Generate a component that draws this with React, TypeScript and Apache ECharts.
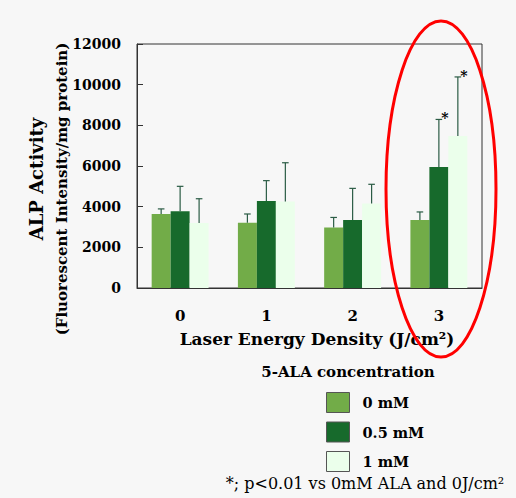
import React, { useEffect, useRef } from "react";
import * as echarts from "echarts";

const categories = ["0", "1", "2", "3"];
const seriesNames = ["0 mM", "0.5 mM", "1 mM"];
const mean0mM = [3640, 3210, 2980, 3340];
const upper0mM = [3890, 3640, 3470, 3740];
const mean05mM = [3770, 4280, 3340, 5950];
const upper05mM = [5000, 5280, 4900, 8290];
const mean1mM = [3200, 4260, 4150, 7480];
const upper1mM = [4390, 6160, 5100, 10380];
const sig0mM = [false, false, false, false];
const sig05mM = [false, false, false, true];
const sig1mM = [false, false, false, true];
const yTicks = [0, 2000, 4000, 6000, 8000, 10000, 12000];

const colors = ["#72ac48", "#176a2c", "#ebffeb"];
const SERIF = "'DejaVu Serif', 'Liberation Serif', serif";

const W = 516;
const H = 498;
const GRID = { left: 137, top: 44, right: 34, bottom: 210 };
const BAR_FRAC = 0.22;

export default function App() {
  const ref = useRef<HTMLDivElement>(null);
  useEffect(() => {
    document.body.style.margin = "0";
    document.body.style.background = "#f7f7f7";
    const chart = echarts.init(ref.current!, null, { renderer: "svg" });
    const means = [mean0mM, mean05mM, mean1mM];
    const uppers = [upper0mM, upper05mM, upper1mM];
    const sigs = [sig0mM, sig05mM, sig1mM];
    const catWidthPx = (W - GRID.left - GRID.right) / categories.length;
    const barWidthPx = catWidthPx * BAR_FRAC;

    const barSeries = means.map((m, i) => ({
      type: "bar",
      name: seriesNames[i],
      data: m,
      barWidth: `${BAR_FRAC * 100}%`,
      barGap: "0%",
      itemStyle: { color: colors[i] },
      z: 2,
    }));

    const errSeries = means.map((m, i) => ({
      type: "custom",
      name: seriesNames[i] + " err",
      data: m.map((v, k) => [k, v, uppers[i][k]]),
      z: 5,
      silent: true,
      renderItem: (params: any, api: any) => {
        const k = api.value(0);
        const catW = api.size([1, 0])[0];
        const bw = catW * BAR_FRAC;
        const off = (i - 1) * bw;
        const p0 = api.coord([k, api.value(1)]);
        const p1 = api.coord([k, api.value(2)]);
        const x = p0[0] + off;
        return {
          type: "group",
          children: [
            {
              type: "line",
              shape: { x1: x, y1: p0[1], x2: x, y2: p1[1] },
              style: { stroke: "#2b5c45", lineWidth: 1.2 },
            },
            {
              type: "line",
              shape: { x1: x - 3.3, y1: p1[1], x2: x + 3.3, y2: p1[1] },
              style: { stroke: "#2b5c45", lineWidth: 1.2 },
            },
          ],
        };
      },
    }));

    const starSeries = means.map((m, i) => ({
      type: "scatter",
      name: seriesNames[i] + " sig",
      data: uppers[i]
        .map((u, k) => (sigs[i][k] ? [k, u] : null))
        .filter((d) => d !== null),
      symbol: "circle",
      symbolSize: 1,
      silent: true,
      z: 6,
      itemStyle: { color: "rgba(0,0,0,0)" },
      label: {
        show: true,
        position: "inside",
        formatter: "*",
        offset: [(i - 1) * barWidthPx + 6, -1],
        color: "#000",
        opacity: 1,
        fontFamily: SERIF,
        fontWeight: "bold",
        fontSize: 14,
      },
    }));

    const centered = {
      fill: "#000",
      align: "center",
      verticalAlign: "middle",
      textAlign: "center",
      textVerticalAlign: "middle",
    };

    chart.setOption({
      animation: false,
      backgroundColor: "#f7f7f7",
      grid: {
        ...GRID,
        show: true,
        borderColor: "#333",
        borderWidth: 1,
        backgroundColor: "transparent",
      },
      legend: {
        orient: "vertical",
        left: 321,
        top: 387,
        itemWidth: 23,
        itemHeight: 20,
        itemGap: 8.5,
        icon: "rect",
        data: seriesNames,
        itemStyle: { borderColor: "#555", borderWidth: 1 },
        textStyle: {
          fontFamily: SERIF,
          fontWeight: "bold",
          fontSize: 14.5,
          color: "#000",
          padding: [0, 0, 6, 8],
        },
      },
      xAxis: {
        type: "category",
        data: categories,
        axisLine: { lineStyle: { color: "#333" } },
        axisTick: { inside: true, length: 6, lineStyle: { color: "#666" } },
        axisLabel: {
          margin: 20,
          fontFamily: SERIF,
          fontWeight: "bold",
          fontSize: 15,
          color: "#000",
        },
      },
      yAxis: {
        type: "value",
        min: yTicks[0],
        max: yTicks[yTicks.length - 1],
        interval: 2000,
        splitLine: { show: false },
        axisLine: { show: true, lineStyle: { color: "#333" } },
        axisTick: { show: true, inside: true, length: 6, lineStyle: { color: "#333" } },
        axisLabel: {
          margin: 16,
          fontFamily: SERIF,
          fontWeight: "bold",
          fontSize: 14,
          color: "#000",
          formatter: (v: number) => String(v),
        },
      },
      graphic: [
        {
          type: "text",
          x: 36,
          y: 179,
          rotation: Math.PI / 2,
          style: { text: "ALP Activity", font: `bold 18px ${SERIF}`, ...centered },
        },
        {
          type: "text",
          x: 62,
          y: 189,
          rotation: Math.PI / 2,
          style: {
            text: "(Fluorescent Intensity/mg protein)",
            font: `bold 15px ${SERIF}`,
            ...centered,
          },
        },
        {
          type: "text",
          x: 317,
          y: 339,
          style: { text: "Laser Energy Density (J/cm²)", font: `bold 17px ${SERIF}`, ...centered },
        },
        {
          type: "text",
          x: 348,
          y: 372,
          style: { text: "5-ALA concentration", font: `bold 15px ${SERIF}`, ...centered },
        },
        {
          type: "text",
          x: 365,
          y: 483,
          style: { text: "*; p<0.01 vs 0mM ALA and 0J/cm²", font: `16px ${SERIF}`, ...centered },
        },
        {
          type: "ellipse",
          shape: { cx: 441, cy: 189, rx: 55, ry: 168 },
          style: { stroke: "#ff0000", lineWidth: 3, fill: "none" },
          z: 100,
        },
      ],
      series: [...barSeries, ...errSeries, ...starSeries],
    });
    return () => chart.dispose();
  }, []);
  return <div ref={ref} style={{ width: W, height: H }} />;
}
